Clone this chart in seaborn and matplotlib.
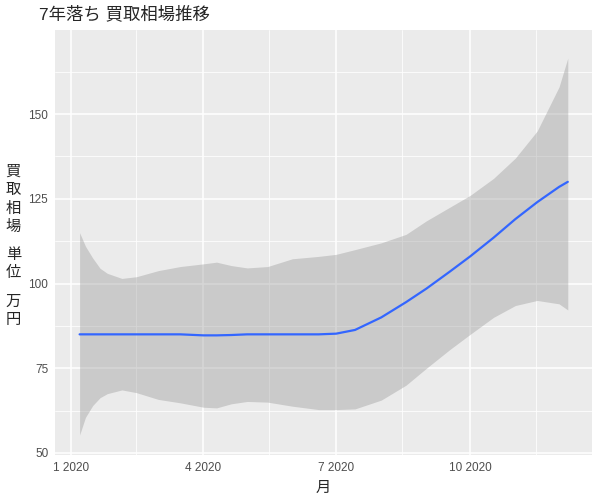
import seaborn as sns
import matplotlib.pyplot as plt
import matplotlib.dates as mdates
import pandas as pd
import numpy as np

# smoothed price curve (万円)
dates = ['2020-01-07', '2020-01-11', '2020-01-16', '2020-01-21', '2020-01-26',
         '2020-02-05', '2020-02-15',
         '2020-03-01', '2020-03-16', '2020-04-01', '2020-04-10', '2020-04-20',
         '2020-05-01', '2020-05-15', '2020-06-01', '2020-06-19', '2020-07-01',
         '2020-07-14', '2020-08-01', '2020-08-18', '2020-09-01', '2020-09-17',
         '2020-10-01', '2020-10-17', '2020-11-01', '2020-11-16', '2020-12-01',
         '2020-12-07']
fit = [85, 85, 85, 85, 85,
       85, 85,
       85, 85, 84.7, 84.7, 84.8,
       85, 85, 85, 85, 85.2,
       86.3, 90, 94.5, 98.5, 103.5,
       108, 113.5, 119, 124, 128.5,
       130]
lower = [55.3, 60.5, 64, 66.3, 67.5,
         68.6, 67.8,
         65.8, 64.8, 63.5, 63.3, 64.5,
         65.2, 65, 63.8, 62.8, 62.8,
         63, 65.6, 70, 75, 80.5,
         85, 90, 93.5, 95, 94,
         92.2]
upper = [115, 111, 107.5, 104.5, 103,
         101.5, 102,
         103.8, 105, 105.8, 106.3, 105.3,
         104.6, 105, 107.3, 108, 108.6,
         110, 112, 114.5, 118.5, 122.5,
         126, 131, 137, 145, 158,
         166.5]

df = pd.DataFrame({'月': pd.to_datetime(dates), 'fit': fit,
                   'lower': lower, 'upper': upper})

sns.set_style('darkgrid')
plt.rcParams['font.family'] = ['Liberation Sans', 'Noto Sans CJK JP']

fig = plt.figure(figsize=(6, 5), dpi=100)
ax = fig.add_axes([0.092, 0.09, 0.895, 0.85])
ax.set_facecolor('#EBEBEB')

ax.fill_between(df['月'], df['lower'], df['upper'], color='#999999', alpha=0.4,
                linewidth=0, zorder=2)
sns.lineplot(data=df, x='月', y='fit', color='#3366FF', linewidth=1.6, ax=ax,
             zorder=3)

# axes limits like ggplot's 5% expansion
x0, x1 = df['月'].min(), df['月'].max()
pad = (x1 - x0) * 0.05
ax.set_xlim(x0 - pad, x1 + pad)
ax.set_ylim(49.4, 174.8)

ax.set_xticks(pd.to_datetime(['2020-01-01', '2020-04-01', '2020-07-01', '2020-10-01']))
ax.xaxis.set_major_formatter(mdates.DateFormatter('%-m %Y'))
ax.set_xticks(pd.to_datetime(['2020-02-15', '2020-05-16', '2020-08-15', '2020-11-15']),
              minor=True)
ax.set_yticks([50, 75, 100, 125, 150])
ax.set_yticks([62.5, 87.5, 112.5, 137.5, 162.5], minor=True)

ax.grid(which='major', color='white', linewidth=1.1)
ax.grid(which='minor', color='white', linewidth=0.55)
for s in ax.spines.values():
    s.set_visible(False)
ax.tick_params(which='major', length=3, width=0.8, color='#333333',
               labelsize=8.5, labelcolor='#4D4D4D', pad=2)
ax.tick_params(which='minor', length=0)

ax.set_xlabel('月', fontsize=11, labelpad=5)
ax.set_ylabel('')
ax.set_title('7年落ち 買取相場推移', fontsize=12.5, loc='left', x=-0.03, pad=8)

# stacked vertical y label
ylab = dict(transform=ax.transAxes, fontsize=11, ha='center', va='center',
            linespacing=1.4)
ax.text(-0.078, 0.601, '買\n取\n相\n場', **ylab)
ax.text(-0.078, 0.449, '単\n位', **ylab)
ax.text(-0.078, 0.339, '万\n円', **ylab)

fig.savefig('out.png', dpi=100, facecolor='white')
